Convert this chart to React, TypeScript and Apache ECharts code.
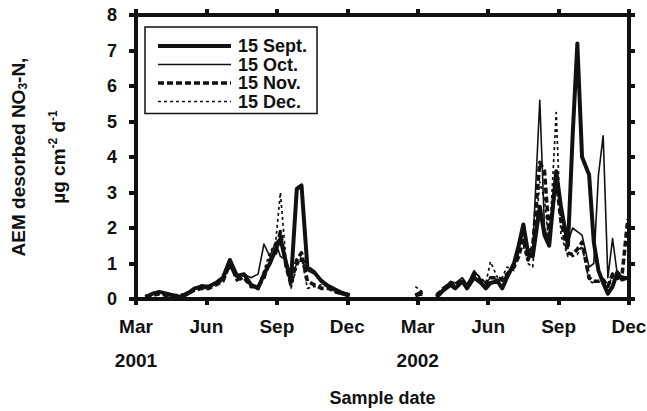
import React, { useEffect, useRef } from "react";
import * as echarts from "echarts";

// months since 1 Mar 2001
const sampleMonths = [
  0.4, 0.7, 1.0, 1.3, 1.6, 1.9, 2.2, 2.5, 2.8, 3.1, 3.4, 3.7, 4.0, 4.3, 4.6, 4.9, 5.2, 5.45, 5.7, 5.95,
  6.15, 6.4, 6.6, 6.85, 7.05, 7.3, 7.6, 7.9, 8.2, 8.5, 8.8, 9.1,
  10.5,
  11.9, 12.2,
  12.5,
  12.8, 13.1, 13.4, 13.6, 13.9, 14.1, 14.4, 14.7, 14.9, 15.1, 15.4, 15.6, 15.8, 16.1, 16.3, 16.5, 16.7, 16.9,
  17.2, 17.4, 17.6, 17.9, 18.1, 18.4, 18.6, 18.8, 19.0, 19.3, 19.5, 19.7, 19.9, 20.1, 20.3, 20.5, 20.7, 20.95,
];

const sept15 = [
  0.05, 0.15, 0.2, 0.15, 0.1, 0.05, 0.15, 0.3, 0.35, 0.35, 0.45, 0.6, 1.1, 0.65, 0.7, 0.4, 0.3, 0.7, 1.0, 1.4,
  1.7, 1.0, 0.5, 3.1, 3.2, 0.9, 0.75, 0.5, 0.35, 0.25, 0.15, 0.1,
  null,
  0.1, 0.2,
  null,
  0.05, 0.25, 0.4, 0.3, 0.5, 0.3, 0.6, 0.45, 0.3, 0.45, 0.5, 0.3, 0.6, 1.0, 1.5, 2.1, 1.3, 1.2,
  2.6, 1.8, 1.5, 3.6, 2.6, 1.5, 4.6, 7.2, 4.0, 3.5, 1.6, 0.8, 0.45, 0.15, 0.35, 0.75, 0.55, 0.6,
];

const oct15 = [
  0.1, 0.15, 0.2, 0.1, 0.1, 0.1, 0.2, 0.3, 0.4, 0.35, 0.45, 0.55, 0.9, 0.6, 0.7, 0.6, 0.7, 1.55, 1.2, 1.6,
  1.2, 1.1, 0.6, 1.0, 1.1, 0.8, 0.7, 0.55, 0.4, 0.3, 0.2, 0.15,
  null,
  0.15, 0.1,
  null,
  0.1, 0.3, 0.5, 0.45, 0.6, 0.4, 0.8, 0.55, 0.45, 0.6, 0.55, 0.5, 0.7, 0.9, 1.4, 1.9, 1.4, 1.4,
  5.6, 2.0, 1.6, 3.5, 2.5, 1.6, 2.0, 1.9, 1.8, 0.9, 1.0, 3.5, 4.6, 0.6, 1.7, 0.7, 0.65, 0.6,
];

const nov15 = [
  0.05, 0.1, 0.15, 0.1, 0.1, 0.1, 0.15, 0.25, 0.3, 0.3, 0.4, 0.5, 1.0, 0.55, 0.6, 0.35, 0.35, 0.6, 1.1, 1.3,
  1.9, 0.9, 0.4, 1.1, 1.3, 0.5, 0.4, 0.3, 0.3, 0.2, 0.15, 0.1,
  null,
  0.1, 0.15,
  null,
  0.1, 0.3, 0.45, 0.35, 0.55, 0.35, 0.7, 0.5, 0.4, 0.6, 0.6, 0.55, 0.7, 0.9, 1.2, 1.7, 1.1, 1.5,
  3.85, 3.6, 1.8, 3.4, 2.2, 1.3, 1.25, 1.4, 1.6, 0.6, 0.5, 0.5, 0.55, 0.35, 0.7, 0.6, 0.65, 2.25,
];

const dec15 = [
  0.1, 0.15, 0.15, 0.1, 0.1, 0.1, 0.2, 0.3, 0.3, 0.3, 0.45, 0.5, 0.95, 0.5, 0.6, 0.4, 0.35, 0.8, 1.3, 1.6,
  3.0, 1.0, 0.3, 0.9, 1.2, 0.3, 0.35, 0.4, 0.35, 0.25, 0.15, 0.1,
  null,
  0.35, 0.2,
  null,
  0.15, 0.3, 0.4, 0.4, 0.5, 0.4, 0.75, 0.6, 0.45, 1.05, 0.6, 0.6, 0.9, 0.8, 1.3, 1.5, 1.0, 0.9,
  3.3, 2.8, 1.5, 5.25, 1.8, 1.2, 1.2, 1.25, 1.5, 0.5, 0.45, 0.5, 0.45, 0.35, 0.65, 0.55, 0.6, 0.7,
];

const seriesNames = ["15 Sept.", "15 Oct.", "15 Nov.", "15 Dec."];
const monthTickLabels = ["Mar", "Jun", "Sep", "Dec", "Mar", "Jun", "Sep", "Dec"];
const yearTickLabels = ["2001", "", "", "", "2002", "", "", ""];

const FONT = "'Liberation Sans', Arial, sans-serif";
const INK = "#111111";

export default function App() {
  const ref = useRef<HTMLDivElement>(null);

  useEffect(() => {
    if (!ref.current) return;
    const chart = echarts.init(ref.current, undefined, { renderer: "svg" });

    const pairs = (vals: (number | null)[]) =>
      sampleMonths.map((m, i) => [m, vals[i] === null ? null : vals[i]]);

    const lineStyles = [
      { width: 4, type: "solid" as any },
      { width: 1.6, type: "solid" as any },
      { width: 3.6, type: [6, 3] as any },
      { width: 1.7, type: [3, 3] as any },
    ];
    const allVals = [sept15, oct15, nov15, dec15];

    const xLabel = (v: number) => {
      const i = Math.round(v / 3);
      const m = monthTickLabels[i] || "";
      const y = yearTickLabels[i] || "";
      return y ? m + "\n" + y : m;
    };

    const axisLineStyle = { color: INK, width: 4 };
    const tickStyle = { show: true, inside: false, length: 6, lineStyle: { color: INK, width: 4 } };
    const base = { fontFamily: FONT, fontWeight: "bold", color: INK };

    chart.setOption({
      animation: false,
      backgroundColor: "#ffffff",
      grid: {
        left: 136,
        right: 18,
        top: 15,
        bottom: 112,
        containLabel: false,
        outerBoundsMode: "none",
      },
      legend: {
        show: true,
        orient: "vertical",
        left: 145,
        top: 27,
        padding: [10, 10, 3, 11],
        itemWidth: 73,
        itemHeight: 14,
        itemGap: 0.5,
        borderColor: INK,
        borderWidth: 1.5,
        borderRadius: 0,
        backgroundColor: "#ffffff",
        data: seriesNames,
        itemStyle: { opacity: 0 },
        lineStyle: { width: "inherit" },
        textStyle: { ...base, fontSize: 18, padding: [0, 0, 0, 2] },
      },
      xAxis: [
        {
          type: "value",
          min: 0,
          max: 21,
          interval: 3,
          position: "bottom",
          splitLine: { show: false },
          axisLine: { show: true, onZero: false, lineStyle: axisLineStyle },
          axisTick: tickStyle,
          axisLabel: { ...base, formatter: xLabel, fontSize: 19, margin: 10, lineHeight: 34 },
          name: "Sample date",
          nameLocation: "middle",
          nameGap: 90,
          nameTextStyle: { ...base, fontSize: 18 },
        },
        {
          type: "value",
          min: 0,
          max: 21,
          interval: 3,
          position: "top",
          splitLine: { show: false },
          axisLine: { show: true, onZero: false, lineStyle: axisLineStyle },
          axisTick: tickStyle,
          axisLabel: { show: false },
        },
      ],
      yAxis: [
        {
          type: "value",
          min: 0,
          max: 8,
          interval: 1,
          position: "left",
          splitLine: { show: false },
          axisLine: { show: true, onZero: false, lineStyle: axisLineStyle },
          axisTick: { ...tickStyle, length: 7 },
          axisLabel: { ...base, fontSize: 18, margin: 19 },
          name: "{a|AEM desorbed NO}{sub|3}{a|-N,}\n{a|µg cm}{sup|-2}{a| d}{sup|-1}",
          nameLocation: "middle",
          nameGap: 58,
          nameRotate: 90,
          nameTextStyle: {
            ...base,
            fontSize: 19,
            rich: {
              a: { ...base, fontSize: 19, lineHeight: 40, verticalAlign: "middle" },
              sub: { ...base, fontSize: 12, verticalAlign: "middle", padding: [10, 0, 0, 0] },
              sup: { ...base, fontSize: 12, verticalAlign: "middle", padding: [0, 0, 10, 0] },
            },
          },
        },
        {
          type: "value",
          min: 0,
          max: 8,
          interval: 1,
          position: "right",
          splitLine: { show: false },
          axisLine: { show: true, onZero: false, lineStyle: axisLineStyle },
          axisTick: tickStyle,
          axisLabel: { show: false },
        },
      ],
      series: seriesNames.map((name, k) => ({
        name,
        type: "line",
        xAxisIndex: 0,
        yAxisIndex: 0,
        data: pairs(allVals[k]),
        symbol: "none",
        showSymbol: false,
        connectNulls: false,
        z: 10 - k,
        lineStyle: { color: INK, ...lineStyles[k], join: "round" },
        itemStyle: { color: INK },
      })),
    });

    return () => chart.dispose();
  }, []);

  return (
    <div
      ref={ref}
      style={{ position: "fixed", left: 0, top: 0, width: 647, height: 411 }}
    />
  );
}
